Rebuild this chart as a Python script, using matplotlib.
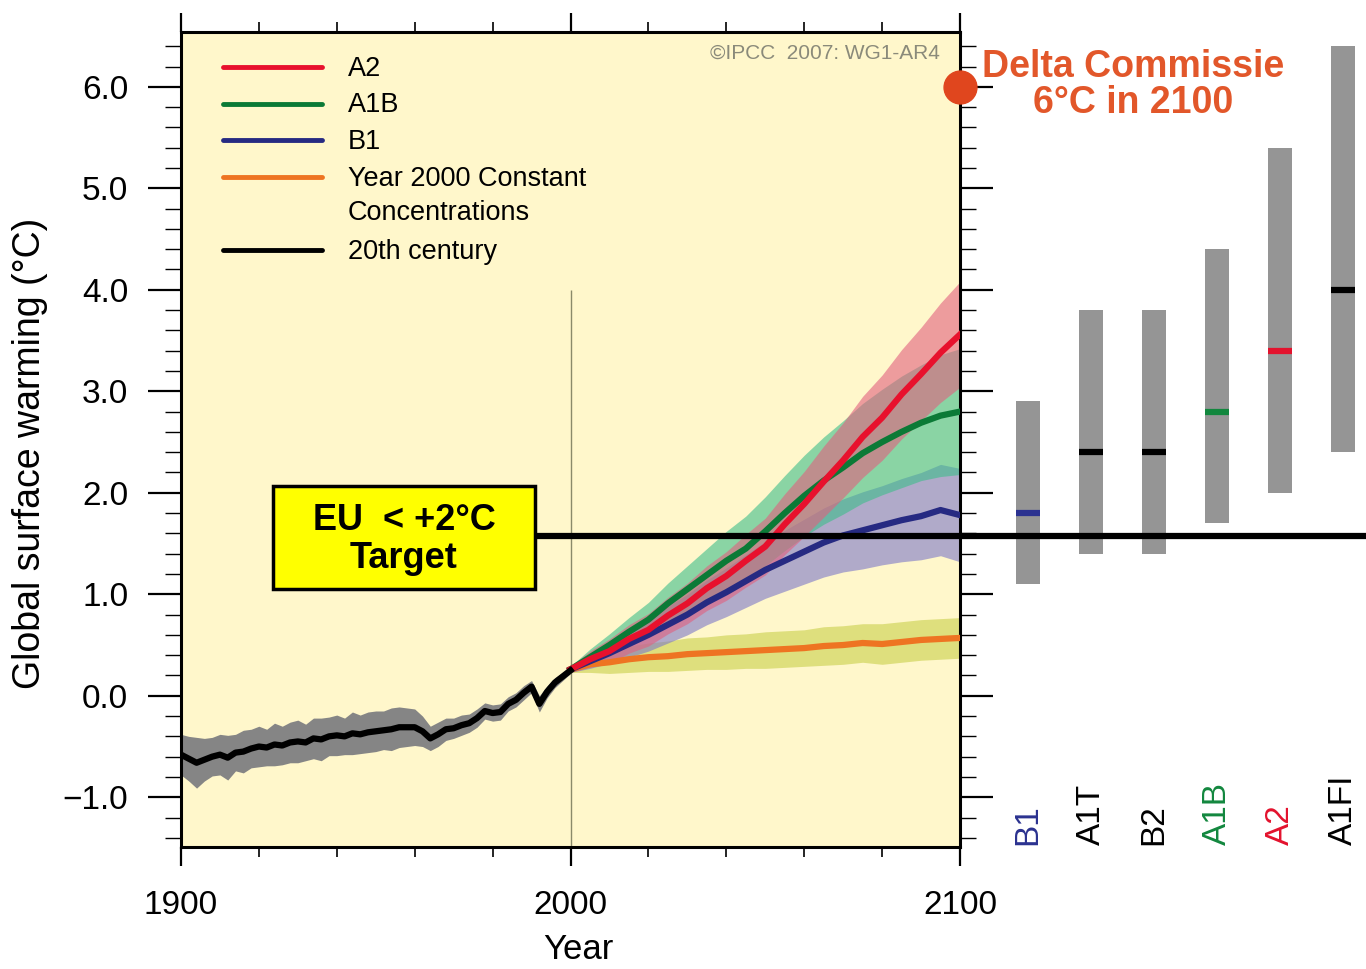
import matplotlib
matplotlib.use('Agg')
import numpy as np
import matplotlib.pyplot as plt
from matplotlib.patches import Rectangle

plt.rcParams['font.family'] = ['Liberation Sans', 'DejaVu Sans']

# 20th century observed/simulated warming
hist_years = list(range(1900, 2001, 2))
hist_mean = [-0.58, -0.62, -0.66, -0.63, -0.60, -0.58, -0.61, -0.56, -0.55, -0.52,
             -0.50, -0.51, -0.48, -0.49, -0.46, -0.45, -0.46, -0.42, -0.43, -0.40,
             -0.39, -0.40, -0.37, -0.38, -0.36, -0.35, -0.34, -0.33, -0.31, -0.31,
             -0.31, -0.35, -0.42, -0.38, -0.33, -0.32, -0.29, -0.27, -0.22, -0.15,
             -0.17, -0.16, -0.08, -0.04, 0.03, 0.09, -0.08, 0.04, 0.13, 0.19, 0.25]
hist_spread = [0.20, 0.22, 0.25, 0.21, 0.19, 0.20, 0.22, 0.18, 0.21, 0.19,
               0.20, 0.18, 0.21, 0.19, 0.20, 0.21, 0.18, 0.20, 0.21, 0.19,
               0.20, 0.18, 0.21, 0.19, 0.20, 0.20, 0.19, 0.21, 0.20, 0.19,
               0.18, 0.15, 0.12, 0.12, 0.11, 0.10, 0.10, 0.09, 0.09, 0.08,
               0.08, 0.08, 0.07, 0.07, 0.07, 0.06, 0.08, 0.06, 0.05, 0.04, 0.03]

# scenario projections
proj_years = list(range(2000, 2101, 5))
a2_mean = [0.26, 0.36, 0.44, 0.56, 0.65, 0.79, 0.91, 1.06, 1.18, 1.33, 1.47,
           1.69, 1.89, 2.11, 2.32, 2.55, 2.74, 2.97, 3.17, 3.38, 3.56]
a2_spread = [0.03, 0.08, 0.12, 0.14, 0.16, 0.18, 0.20, 0.22, 0.24, 0.26, 0.28,
             0.30, 0.32, 0.35, 0.37, 0.40, 0.42, 0.44, 0.46, 0.49, 0.52]
a1b_mean = [0.26, 0.38, 0.50, 0.63, 0.75, 0.91, 1.05, 1.19, 1.33, 1.45, 1.62,
            1.80, 1.97, 2.12, 2.25, 2.39, 2.50, 2.60, 2.69, 2.76, 2.80]
a1b_spread = [0.03, 0.08, 0.11, 0.14, 0.17, 0.20, 0.23, 0.26, 0.29, 0.32, 0.34,
              0.37, 0.40, 0.43, 0.46, 0.49, 0.52, 0.55, 0.57, 0.60, 0.62]
b1_mean = [0.26, 0.34, 0.42, 0.51, 0.60, 0.70, 0.80, 0.92, 1.02, 1.13, 1.24,
           1.33, 1.42, 1.51, 1.58, 1.63, 1.68, 1.73, 1.77, 1.83, 1.78]
b1_spread = [0.03, 0.07, 0.10, 0.13, 0.16, 0.18, 0.20, 0.22, 0.24, 0.26, 0.28,
             0.30, 0.32, 0.34, 0.36, 0.38, 0.39, 0.41, 0.43, 0.45, 0.46]
const_mean = [0.26, 0.31, 0.33, 0.36, 0.38, 0.39, 0.41, 0.42, 0.43, 0.44, 0.45,
              0.46, 0.47, 0.49, 0.50, 0.52, 0.51, 0.53, 0.55, 0.56, 0.57]
const_spread = [0.03, 0.08, 0.11, 0.13, 0.14, 0.15, 0.16, 0.16, 0.17, 0.17, 0.18,
                0.18, 0.18, 0.19, 0.19, 0.19, 0.20, 0.20, 0.20, 0.20, 0.20]

# likely ranges at 2100 per SRES scenario
bar_names = ['B1', 'A1T', 'B2', 'A1B', 'A2', 'A1FI']
bar_low = [1.1, 1.4, 1.4, 1.7, 2.0, 2.4]
bar_high = [2.9, 3.8, 3.8, 4.4, 5.4, 6.4]
bar_best = [1.8, 2.4, 2.4, 2.8, 3.4, 4.0]
bar_colors = ['#2b3290', 'black', 'black', '#12873e', '#e3122d', 'black']

legend_labels = ['A2', 'A1B', 'B1', 'Year 2000 Constant\nConcentrations', '20th century']

eu_target = 1.57
delta_year, delta_value = 2100, 6.0

RED, GREEN, BLUE, ORANGE = '#e8112d', '#0b7a36', '#262a82', '#ee7422'

fig = plt.figure(figsize=(13.66, 9.69), dpi=100)
ax = fig.add_axes([181/1366, 122/969, 779/1366, 815/969])
ax.set_facecolor('#fff7cb')

h_lo = np.array(hist_mean) - np.array(hist_spread)
h_hi = np.array(hist_mean) + np.array(hist_spread)
ax.fill_between(hist_years, h_lo, h_hi, color='#858585', lw=0, zorder=2)

bands = [(const_mean, const_spread, '#d6d96a', 0.8),
         (b1_mean, b1_spread, '#7c78c8', 0.6),
         (a1b_mean, a1b_spread, '#3dbe8a', 0.6),
         (a2_mean, a2_spread, '#e2607f', 0.6)]
for m, s, c, a in bands:
    m = np.array(m); s = np.array(s)
    ax.fill_between(proj_years, m - s, m + s, color=c, alpha=a, lw=0, zorder=2)

ax.plot(proj_years, const_mean, color=ORANGE, lw=4.5, zorder=3)
ax.plot(proj_years, b1_mean, color=BLUE, lw=4.5, zorder=3)
ax.plot(proj_years, a1b_mean, color=GREEN, lw=4.5, zorder=3)
ax.plot(proj_years, a2_mean, color=RED, lw=4.5, zorder=3)
ax.plot(hist_years, hist_mean, color='black', lw=4.5, zorder=3)

ax.vlines(2000, -1.6, 4.0, color='#8a8a6a', lw=1, zorder=1)

ax.set_xlim(1900, 2100)
ax.set_ylim(-1.49, 6.54)
ax.set_xticks([1900, 2000, 2100])
ax.set_xticks(range(1900, 2101, 20), minor=True)
ax.set_yticks(np.arange(-1, 7, 1.0))
ax.set_yticks(np.arange(-1.4, 6.6, 0.2), minor=True)
ax.set_yticklabels(['\u22121.0', '0.0', '1.0', '2.0', '3.0', '4.0', '5.0', '6.0'])
ax.tick_params(axis='both', which='both', direction='out', top=True, right=True,
               labelsize=24, colors='black')
ax.tick_params(axis='y', which='major', length=24, width=1.6, pad=14)
ax.tick_params(axis='y', which='minor', length=11.5, width=1.0)
ax.tick_params(axis='x', which='major', length=14, width=1.6, pad=17)
ax.tick_params(axis='x', which='minor', length=7, width=1.2)
for sp in ax.spines.values():
    sp.set_linewidth(2.2)

ax.set_ylabel('Global surface warming (\u00b0C)', fontsize=27, va='center')
ax.yaxis.set_label_coords(-0.194, 0.483)
ax.set_xlabel('Year', fontsize=25, va='center')
ax.xaxis.set_label_coords(0.51, -0.126)

ax.text(0.974, 0.974, '\u00a9IPCC  2007: WG1-AR4', transform=ax.transAxes,
        ha='right', va='center', fontsize=15, color='#8a8a7a')

# legend drawn as rows: handle line + label
leg_colors = [RED, GREEN, BLUE, ORANGE, 'black']
row = 0
for lab, col in zip(legend_labels, leg_colors):
    yy = 0.957 - row * 0.045
    ax.plot([0.054, 0.181], [yy, yy], transform=ax.transAxes, color=col, lw=3.5,
            solid_capstyle='round', zorder=4)
    ax.text(0.214, yy + 0.014, lab, transform=ax.transAxes, ha='left', va='top',
            fontsize=19.5, linespacing=1.4, zorder=4)
    row += lab.count('\n') + 1

# EU target box and line
bx0, bx1, by0, by1 = 1923.6, 1990.9, 1.05, 2.07
ax.add_patch(Rectangle((bx0, by0), bx1 - bx0, by1 - by0, facecolor='#ffff00',
                       edgecolor='black', lw=2.5, zorder=6))
ax.text((bx0 + bx1) / 2, (by0 + by1) / 2 - 0.02, 'EU  < +2\u00b0C\nTarget', ha='center',
        va='center', fontsize=26, fontweight='bold', linespacing=1.08, zorder=7)
ax.hlines(eu_target, bx1, 2100, color='black', lw=4.5, zorder=5)

ax.scatter([delta_year], [delta_value], s=560, color='#e0461e', zorder=8, clip_on=False)

# right panel with scenario ranges
ax2 = fig.add_axes([960/1366, 122/969, 406/1366, 815/969])
ax2.set_facecolor('none')
ax2.set_xlim(-68/63, 338/63)
ax2.set_ylim(-1.49, 6.54)
ax2.axis('off')
pos = np.arange(len(bar_names))
ax2.bar(pos, np.array(bar_high) - np.array(bar_low), bottom=bar_low, width=0.39,
        color='#959595', zorder=2)
for i in pos:
    ax2.hlines(bar_best[i], i - 0.195, i + 0.195, color=bar_colors[i], lw=4.5, zorder=3)
    ax2.text(i, -1.47, bar_names[i], rotation=90, ha='center', va='bottom',
             fontsize=24, color=bar_colors[i])
ax2.axhline(eu_target, color='black', lw=4.5, zorder=4)
ax2.text(1.67, 6.02, 'Delta Commissie\n6\u00b0C in 2100', ha='center', va='center',
         fontsize=27, fontweight='bold', color='#e2572a', linespacing=1.0)

fig.savefig('out.png', dpi=100)
